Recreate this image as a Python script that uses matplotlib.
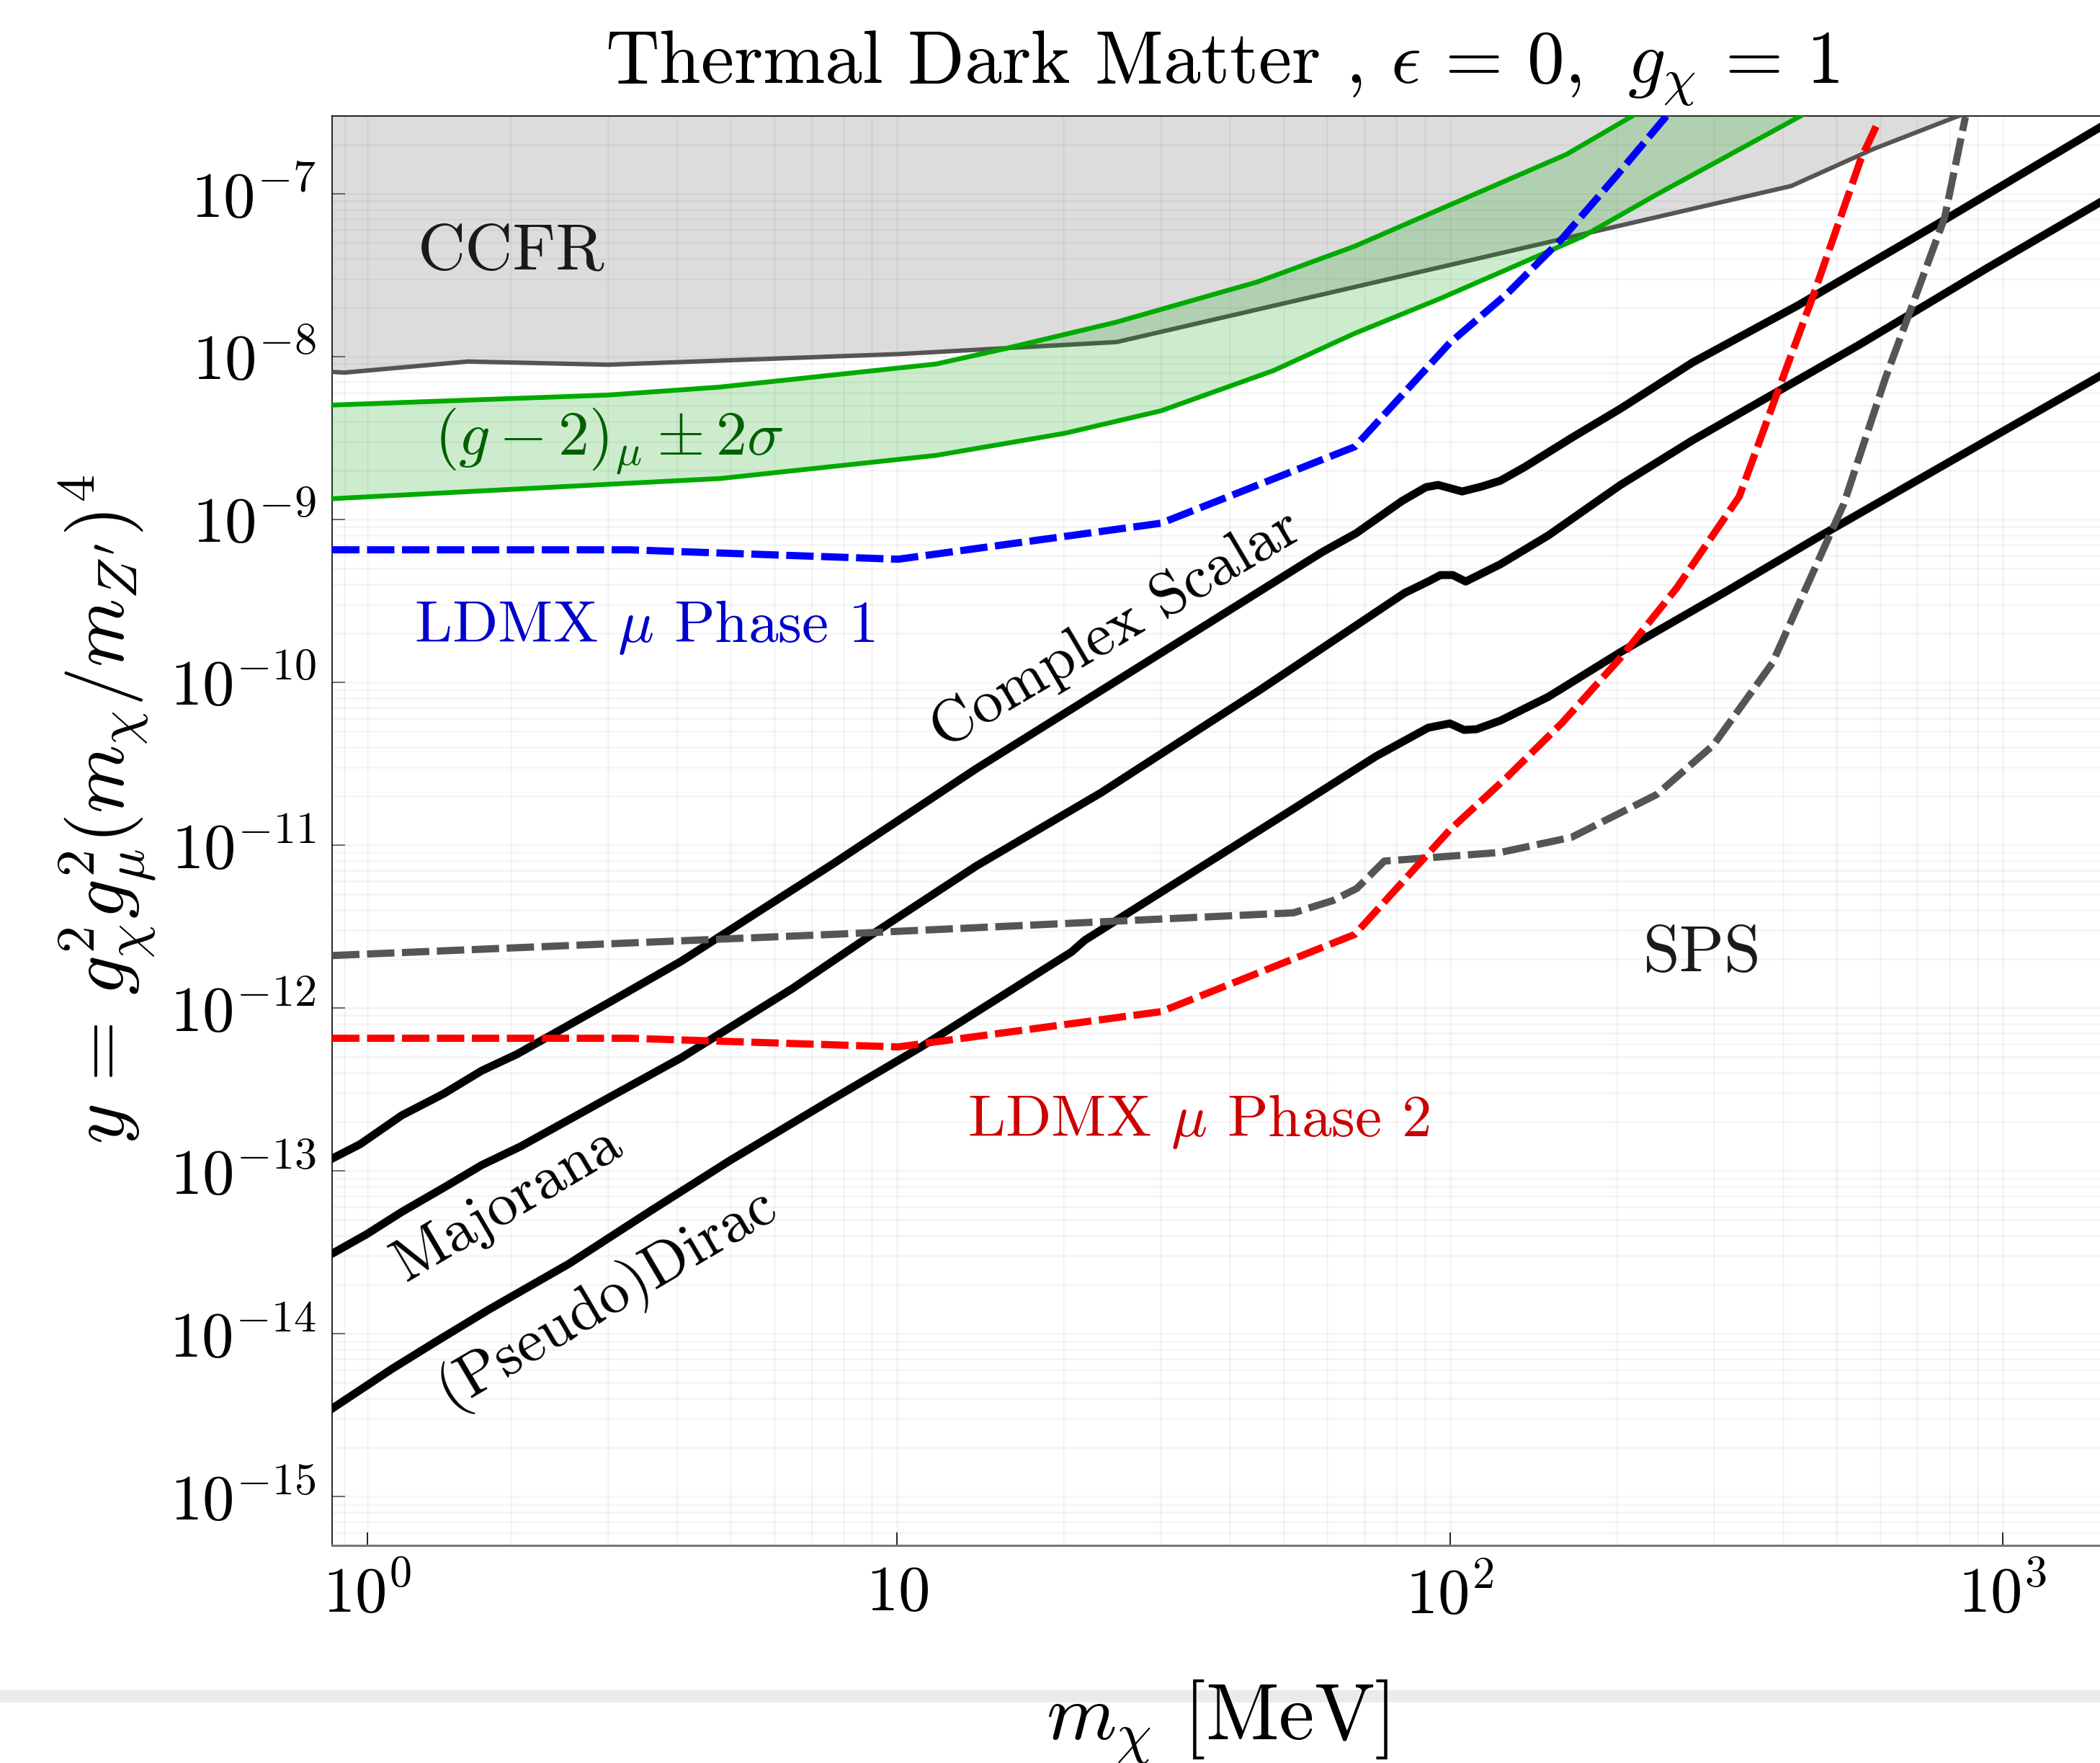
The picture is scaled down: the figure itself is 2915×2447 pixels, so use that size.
import numpy as np
import matplotlib
matplotlib.use('Agg')
import matplotlib.pyplot as plt
from matplotlib.ticker import FixedLocator, FixedFormatter, LogLocator, NullFormatter
from matplotlib.patches import Rectangle

plt.rcParams['font.family'] = 'serif'
plt.rcParams['font.serif'] = ['cmr10']
plt.rcParams['mathtext.fontset'] = 'cm'
plt.rcParams['axes.unicode_minus'] = False

# ---------------- data (m_chi in MeV, y dimensionless) ----------------
ccfr_x = [0.95, 1.0, 1.671, 3.0, 10.04, 24.96, 414.5, 583.8, 843.3]
ccfr_y = [8.04e-9, 7.96e-9, 9.31e-9, 8.9e-9, 1.034e-8, 1.226e-8, 1.113e-7, 1.878e-7, 3.05e-7]

g2_up_x = [0.95, 3.008, 4.785, 11.76, 15.61, 24.91, 44.86, 67.07, 96.1, 162.5, 219.4]
g2_up_y = [5.03e-9, 5.80e-9, 6.49e-9, 8.99e-9, 1.113e-8, 1.624e-8, 2.87e-8, 4.73e-8, 8.03e-8, 1.74e-7, 3.15e-7]
g2_lo_x = [0.95, 3.008, 4.785, 11.76, 20.14, 30.02, 48.05, 67.07, 96.1, 174.0, 236.4, 457.4]
g2_lo_y = [1.339e-9, 1.642e-9, 1.781e-9, 2.47e-9, 3.38e-9, 4.64e-9, 8.21e-9, 1.38e-8, 2.27e-8, 5.46e-8, 9.85e-8, 3.34e-7]

ldmx1_x = [0.95, 3.279, 10.04, 30.03, 67.29, 99.9, 127.1, 159.6, 200.5, 249.6]
ldmx1_y = [6.50e-10, 6.50e-10, 5.69e-10, 9.47e-10, 2.79e-9, 1.209e-8, 2.44e-8, 5.29e-8, 1.296e-7, 3.15e-7]

ldmx2_x = [0.95, 3.279, 10.04, 30.03, 67.29, 99.9, 127.1, 159.6, 203.5, 257.2, 333.8, 390.2, 456.1, 554.3, 593.8]
ldmx2_y = [6.52e-13, 6.52e-13, 5.77e-13, 9.50e-13, 2.83e-12, 1.238e-11, 2.63e-11, 5.64e-11, 1.411e-10,
           3.79e-10, 1.381e-9, 5.86e-9, 2.46e-8, 1.639e-7, 2.70e-7]

sps_x = [0.95, 7.62, 52.1, 61.35, 67.84, 76.09, 123.4, 166.0, 236.4, 299.6, 383.2, 516.0, 614.0, 785.2, 856.3]
sps_y = [2.10e-12, 2.83e-12, 3.84e-12, 4.56e-12, 5.42e-12, 7.98e-12, 9.02e-12, 1.117e-11, 2.04e-11,
         4.11e-11, 1.314e-10, 1.247e-9, 7.41e-9, 7.11e-8, 2.96e-7]

scalar_x = [0.95, 1.068, 1.270, 1.512, 1.772, 2.053, 3.033, 4.069, 7.617, 13.89, 39.31, 58.77, 67.64,
            81.99, 90.52, 95.25, 105.2, 114.3, 123.4, 136.6, 166.5, 203.5, 274.7, 425.6, 785.2, 1497]
scalar_y = [1.190e-13, 1.459e-13, 2.193e-13, 2.976e-13, 4.123e-13, 5.21e-13, 1.096e-12, 1.939e-12, 7.59e-12,
            2.94e-11, 2.68e-10, 6.30e-10, 8.21e-10, 1.299e-9, 1.576e-9, 1.626e-9, 1.483e-9, 1.592e-9,
            1.727e-9, 2.097e-9, 3.184e-9, 4.78e-9, 9.18e-9, 2.052e-8, 6.90e-8, 2.54e-7]

majorana_x = [0.95, 1.097, 1.270, 1.531, 1.772, 2.085, 3.116, 4.069, 6.460, 9.040, 13.89, 23.40, 45.41,
              61.30, 82.75, 91.34, 96.12, 101.2, 106.8, 112.7, 123.4, 150.7, 203.5, 274.7, 554.3, 937.2, 1497]
majorana_y = [3.103e-14, 4.085e-14, 5.60e-14, 8.08e-14, 1.086e-13, 1.415e-13, 3.007e-13, 4.95e-13, 1.316e-12,
              2.854e-12, 7.43e-12, 2.101e-11, 9.01e-11, 1.783e-10, 3.527e-10, 4.152e-10, 4.549e-10,
              4.549e-10, 4.152e-10, 4.549e-10, 5.30e-10, 7.97e-10, 1.626e-9, 3.056e-9, 1.197e-8, 3.485e-8, 8.80e-8]

dirac_x = [0.95, 1.218, 1.472, 1.821, 2.549, 3.556, 4.974, 7.617, 11.05, 20.69, 21.84, 52.74, 73.36,
           91.34, 99.95, 106.1, 111.7, 123.4, 150.7, 203.5, 317.3, 464.7, 937.2, 1497]
dirac_y = [3.475e-15, 6.08e-15, 9.05e-15, 1.402e-14, 2.692e-14, 5.60e-14, 1.154e-13, 2.744e-13, 5.77e-13,
           2.213e-12, 2.604e-12, 1.714e-11, 3.497e-11, 5.254e-11, 5.585e-11, 5.096e-11, 5.148e-11,
           5.815e-11, 8.14e-11, 1.530e-10, 3.637e-10, 7.81e-10, 3.056e-9, 7.56e-9]

xtick_vals = [1.1, 10, 100, 1000]
xtick_labels = [r'$10^0$', r'$10$', r'$10^2$', r'$10^3$']
ytick_vals = [1e-15, 1e-14, 1e-13, 1e-12, 1e-11, 1e-10, 1e-9, 1e-8, 1e-7]
ytick_labels = [r'$10^{-15}$', r'$10^{-14}$', r'$10^{-13}$', r'$10^{-12}$', r'$10^{-11}$',
                r'$10^{-10}$', r'$10^{-9}$', r'$10^{-8}$', r'$10^{-7}$']

# ---------------- figure ----------------
W, H = 2915, 2447
fig = plt.figure(figsize=(W / 100, H / 100), dpi=100)
ax = fig.add_axes([461 / W, (H - 2145.4) / H, (W - 461) / W, (2145.4 - 160.8) / H])
ax.set_xscale('log')
ax.set_yscale('log')
ax.set_xlim(0.95, 1500)
ax.set_ylim(5e-16, 3e-7)
ytop = ax.get_ylim()[1] * 3

# CCFR excluded region
ax.fill(ccfr_x + [ccfr_x[-1], ccfr_x[0]], ccfr_y + [ytop, ytop], color='#dcdcdc', lw=0, zorder=1)
ax.plot(ccfr_x, ccfr_y, color='#555555', lw=4.4, zorder=3)

# (g-2) band
ax.fill(g2_up_x + g2_lo_x[::-1], g2_up_y + g2_lo_y[::-1], color='#05a005', alpha=0.2, lw=0, zorder=3.1)
ax.plot(g2_up_x, g2_up_y, color='#00aa00', lw=4.8, solid_joinstyle='round', zorder=3.2)
ax.plot(g2_lo_x, g2_lo_y, color='#00aa00', lw=4.8, solid_joinstyle='round', zorder=3.2)

# thermal targets
for xs, ys in [(scalar_x, scalar_y), (majorana_x, majorana_y), (dirac_x, dirac_y)]:
    ax.plot(xs, ys, color='black', lw=8.0, solid_joinstyle='round', zorder=4)

# projections
ax.plot(sps_x, sps_y, color='#555555', lw=7.2, ls=(0, (3.8, 1.05)), zorder=4.5)
ax.plot(ldmx2_x, ldmx2_y, color='red', lw=7.2, ls=(0, (3.8, 1.05)), zorder=4.6)
ax.plot(ldmx1_x, ldmx1_y, color='blue', lw=7.2, ls=(0, (3.8, 1.05)), zorder=4.6)

# ---------------- axes styling ----------------
ax.xaxis.set_major_locator(FixedLocator(xtick_vals))
ax.xaxis.set_major_formatter(FixedFormatter(xtick_labels))
ax.yaxis.set_major_locator(FixedLocator(ytick_vals))
ax.yaxis.set_major_formatter(FixedFormatter(ytick_labels))
for a in (ax.xaxis, ax.yaxis):
    a.set_minor_locator(LogLocator(base=10, subs=np.arange(1, 10), numticks=100))
    a.set_minor_formatter(NullFormatter())
ax.tick_params(which='major', direction='in', length=13, width=1.2, labelsize=64)
ax.tick_params(axis='y', which='major', color='#555555', pad=16)
ax.tick_params(axis='x', which='major', pad=20)
ax.tick_params(which='minor', length=0)
ax.grid(True, which='both', color='k', alpha=0.045, lw=1.8)

ax.spines['right'].set_visible(False)
ax.spines['top'].set_linewidth(1.2)
ax.spines['left'].set_linewidth(1.2)
ax.spines['bottom'].set_color('#777777')
ax.spines['bottom'].set_linewidth(2.2)

# ---------------- annotations ----------------
ax.text(2.004, 4.36e-8, 'CCFR', fontsize=66, color='#1a1a1a', ha='center', va='center', zorder=6)
ax.text(3.015, 3.0e-9, r'$(g-2)_\mu \pm 2\sigma$', fontsize=62, color='#006000', ha='center', va='center', zorder=6)
ax.text(3.493, 1.765e-10, r'LDMX $\mu$ Phase 1', fontsize=60, color='#0000cc', ha='center', va='baseline', zorder=6)
ax.text(35.07, 1.632e-13, r'LDMX $\mu$ Phase 2', fontsize=60, color='#cc0000', ha='center', va='baseline', zorder=6)
ax.text(285.7, 2.125e-12, 'SPS', fontsize=66, color='#1a1a1a', ha='center', va='center', zorder=6)
ax.text(24.85, 2.10e-10, 'Complex Scalar', fontsize=61, rotation=30.5, rotation_mode='anchor',
        ha='center', va='center', zorder=6)
ax.text(1.975, 6.2e-14, 'Majorana', fontsize=61, rotation=30.5, rotation_mode='anchor',
        ha='center', va='center', zorder=6)
ax.text(2.979, 1.684e-14, '(Pseudo)Dirac', fontsize=61, rotation=30.5, rotation_mode='anchor',
        ha='center', va='center', zorder=6)

# title and axis labels
fig.text(1697 / W, (H - 115) / H, r'Thermal Dark Matter , $\epsilon\,=\,0$, $\;g_\chi\,=\,1$',
         fontsize=74.5, ha='center', va='baseline')
fig.add_artist(Rectangle((0, (H - 2363) / H), 1, 17 / H, transform=fig.transFigure,
                         color='#ebebeb', lw=0, zorder=-1))
fig.text(1690 / W, (H - 2414) / H, r'$m_\chi$ [MeV]', fontsize=80, ha='center', va='baseline')
fig.text(149 / W, (H - 1123) / H, r"$y\,=\,g_\chi^2 g_\mu^2 (m_\chi/m_{Z^\prime})^4$", fontsize=78,
         rotation=90, ha='center', va='center')

fig.savefig('out.png', dpi=100)
